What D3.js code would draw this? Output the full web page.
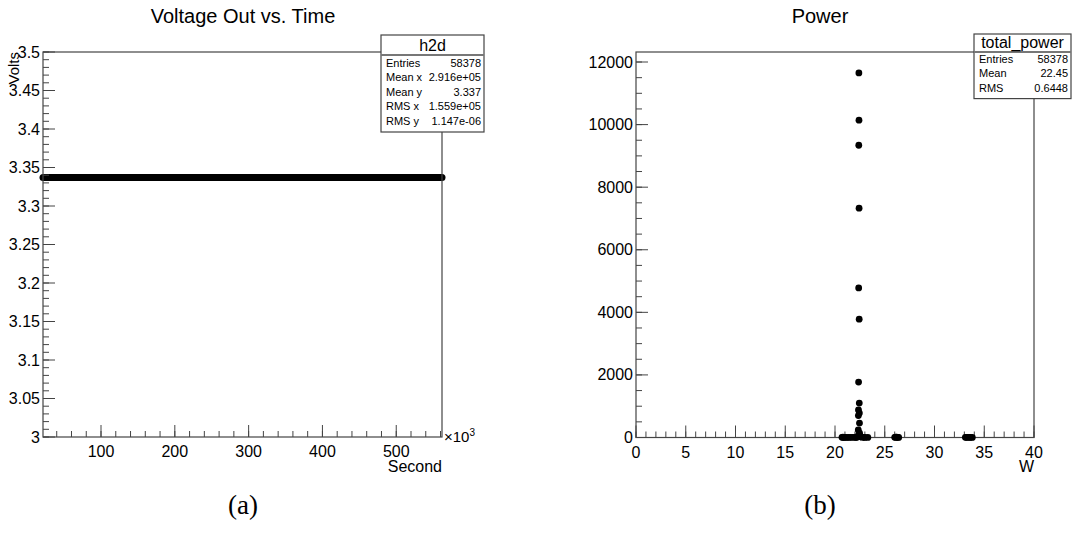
<!DOCTYPE html>
<html>
<head>
<meta charset="utf-8">
<script src="https://cdn.jsdelivr.net/npm/d3@7"></script>
<style>
 body { margin: 0; background: #fff; }
 text { font-family: "Liberation Sans", Arial, sans-serif; fill: #000; }
</style>
</head>
<body>
<script>
 // Left panel: voltage vs time (time in units of 10^3 s)
 var voltTime = [21.4, 562];
 var voltValue = [3.337, 3.337];
 var voltTicks = [3, 3.05, 3.1, 3.15, 3.2, 3.25, 3.3, 3.35, 3.4, 3.45, 3.5];
 var timeTicks = [100, 200, 300, 400, 500];
 var h2dStats = [["Entries", "58378"], ["Mean x", "2.916e+05"], ["Mean y", "3.337"],
                 ["RMS x", "1.559e+05"], ["RMS y", "1.147e-06"]];

 // Right panel: total power histogram drawn with markers
 var powerX = [22.40, 22.41, 22.39, 22.42, 22.38, 22.43, 22.37, 22.44, 22.36, 22.45, 22.35, 22.46, 22.34, 22.47,
               22.50, 22.55, 22.60, 22.70, 22.30, 22.20,
               20.7, 20.8, 20.9, 21.0, 21.2, 21.4, 21.6, 21.8, 22.0, 22.1, 22.9, 23.0, 23.3,
               26.0, 26.1, 26.2, 26.3, 26.4,
               33.1, 33.2, 33.3, 33.5, 33.6, 33.8];
 var powerCount = [11650, 10140, 9340, 7330, 4780, 3780, 1770, 1100, 880, 780, 700, 460, 240, 140,
                   60, 30, 20, 10, 40, 5,
                   5, 8, 4, 3, 2, 3, 6, 4, 5, 6, 4, 3, 2,
                   6, 9, 8, 5, 3,
                   4, 7, 6, 5, 3, 2];
 var powerTicks = [0, 2000, 4000, 6000, 8000, 10000, 12000];
 var wattTicks = [0, 5, 10, 15, 20, 25, 30, 35, 40];
 var powerStats = [["Entries", "58378"], ["Mean", "22.45"], ["RMS", "0.6448"]];

 var svg = d3.select("body").append("svg")
     .attr("width", 1074)
     .attr("height", 533);

 var axisColor = "#444";

 //Frame + ticks helper
 function drawFrame(g, x, y, xMajor, xMinor, yMajor, yMinor, yFmt) {
     var x0 = x.range()[0], x1 = x.range()[1], y0 = y.range()[0], y1 = y.range()[1];
     g.append("rect")
         .attr("x", x0).attr("y", y1)
         .attr("width", x1 - x0).attr("height", y0 - y1)
         .attr("fill", "none").attr("stroke", axisColor).attr("stroke-width", 1.2);

     // x ticks, drawn inward
     g.selectAll(".xmin").data(xMinor).enter().append("line")
         .attr("x1", d => x(d)).attr("x2", d => x(d))
         .attr("y1", y0).attr("y2", y0 - 6)
         .attr("stroke", axisColor);
     g.selectAll(".xmaj").data(xMajor).enter().append("line")
         .attr("x1", d => x(d)).attr("x2", d => x(d))
         .attr("y1", y0).attr("y2", y0 - 12)
         .attr("stroke", axisColor);
     g.selectAll(".xlab").data(xMajor).enter().append("text")
         .attr("x", d => x(d)).attr("y", y0 + 20)
         .attr("text-anchor", "middle")
         .style("font-size", "16px")
         .text(d => d);

     // y ticks, drawn inward
     g.selectAll(".ymin").data(yMinor).enter().append("line")
         .attr("x1", x0).attr("x2", x0 + 6)
         .attr("y1", d => y(d)).attr("y2", d => y(d))
         .attr("stroke", axisColor);
     g.selectAll(".ymaj").data(yMajor).enter().append("line")
         .attr("x1", x0).attr("x2", x0 + 12)
         .attr("y1", d => y(d)).attr("y2", d => y(d))
         .attr("stroke", axisColor);
     g.selectAll(".ylab").data(yMajor).enter().append("text")
         .attr("x", x0 - 3).attr("y", d => y(d) + 5.5)
         .attr("text-anchor", "end")
         .style("font-size", "16px")
         .text(yFmt);
 }

 //Stats box helper
 function drawStats(g, bx, by, bw, titleH, rowH, title, rows) {
     var bh = titleH + rowH * rows.length + 4;
     g.append("rect")
         .attr("x", bx).attr("y", by).attr("width", bw).attr("height", bh)
         .attr("fill", "#fff").attr("stroke", axisColor).attr("stroke-width", 1.2);
     g.append("line")
         .attr("x1", bx).attr("x2", bx + bw)
         .attr("y1", by + titleH).attr("y2", by + titleH)
         .attr("stroke", "#777").attr("stroke-width", 2);
     g.append("text")
         .attr("x", bx + bw / 2).attr("y", by + titleH - 4)
         .attr("text-anchor", "middle")
         .style("font-size", "16px")
         .text(title);
     rows.forEach(function(r, i) {
         var ty = by + titleH + rowH * (i + 1) - 3;
         g.append("text").attr("x", bx + 5).attr("y", ty)
             .style("font-size", "11px").text(r[0]);
         g.append("text").attr("x", bx + bw - 3).attr("y", ty)
             .attr("text-anchor", "end")
             .style("font-size", "11px").text(r[1]);
     });
 }

 // ---------- Left panel ----------
 var xL = d3.scaleLinear().domain([21.4, 562]).range([43, 442]);
 var yL = d3.scaleLinear().domain([3, 3.5]).range([437, 52]);
 var left = svg.append("g");

 left.append("line")
     .attr("x1", xL(voltTime[0])).attr("x2", xL(voltTime[1]))
     .attr("y1", yL(voltValue[0])).attr("y2", yL(voltValue[1]))
     .attr("stroke", "#000").attr("stroke-width", 7)
     .attr("stroke-linecap", "round");

 drawFrame(left, xL, yL, timeTicks, d3.range(40, 561, 20), voltTicks,
     d3.range(300, 351, 1).map(d => d / 100), d => d3.format("")(d));

 left.append("text")
     .attr("x", 243).attr("y", 23)
     .attr("text-anchor", "middle")
     .style("font-size", "20px")
     .text("Voltage Out vs. Time");
 left.append("text")
     .attr("transform", "translate(19,52) rotate(-90)")
     .attr("text-anchor", "end")
     .style("font-size", "15px")
     .text("Volts");
 left.append("text")
     .attr("x", 442).attr("y", 472)
     .attr("text-anchor", "end")
     .style("font-size", "16px")
     .text("Second");
 var sci = left.append("text")
     .attr("x", 444).attr("y", 442)
     .style("font-size", "15px");
 sci.append("tspan").text("\u00d710");
 sci.append("tspan").attr("dy", -6).style("font-size", "10px").text("3");

 drawStats(left, 381, 35, 103, 20, 14.6, "h2d", h2dStats);

 // ---------- Right panel ----------
 var xR = d3.scaleLinear().domain([0, 40]).range([636, 1034]);
 var yR = d3.scaleLinear().domain([0, 12320]).range([437.5, 52]);
 var right = svg.append("g");

 drawFrame(right, xR, yR, wattTicks, d3.range(0, 41, 1), powerTicks,
     d3.range(0, 12001, 500), d => d);

 right.selectAll(".pt")
     .data(powerX.map((d, i) => [d, powerCount[i]]))
     .enter().append("circle")
     .attr("cx", d => xR(d[0]))
     .attr("cy", d => yR(d[1]))
     .attr("r", 3.4)
     .attr("fill", "#000");

 right.append("text")
     .attr("x", 820).attr("y", 23)
     .attr("text-anchor", "middle")
     .style("font-size", "20px")
     .text("Power");
 right.append("text")
     .attr("x", 1034).attr("y", 472)
     .attr("text-anchor", "end")
     .style("font-size", "16px")
     .text("W");

 drawStats(right, 974, 34, 97, 18, 14.2, "total_power", powerStats);

 // ---------- Captions ----------
 svg.selectAll(".cap")
     .data([["(a)", 243], ["(b)", 820]])
     .enter().append("text")
     .attr("x", d => d[1]).attr("y", 514)
     .attr("text-anchor", "middle")
     .style("font-family", "'Liberation Serif', 'DejaVu Serif', serif")
     .style("font-size", "27px")
     .text(d => d[0]);
</script>
</body>
</html>
